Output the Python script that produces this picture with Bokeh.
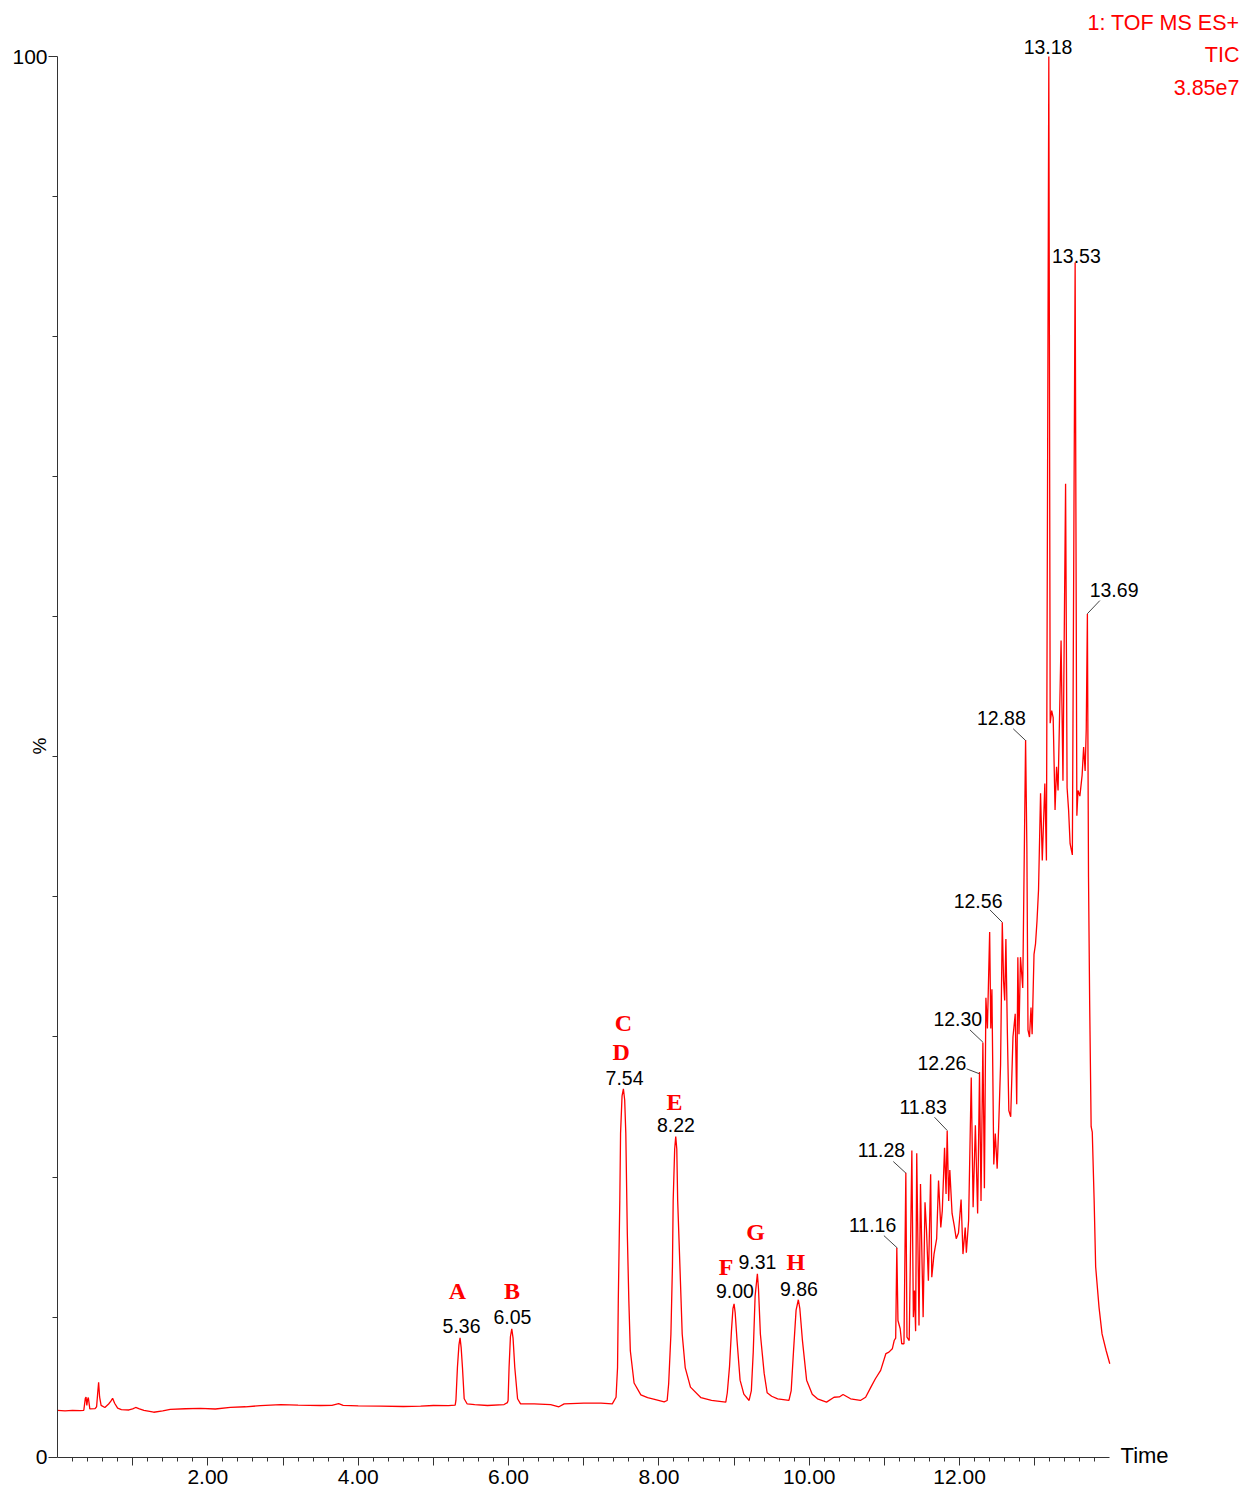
import numpy as np
from bokeh.plotting import figure
from bokeh.models import Range1d, FixedTicker, CustomJSTickFormatter
from bokeh.core.properties import value
from bokeh.embed import file_html
from bokeh.resources import INLINE

# ---------------- data ----------------
time_min = [
    0.00, 0.10, 0.20, 0.30, 0.35, 0.37, 0.38, 0.39, 0.40, 0.41, 0.43, 0.50, 0.52, 0.535, 0.547,
    0.56, 0.58, 0.63, 0.68, 0.71, 0.733, 0.76, 0.80, 0.85, 0.95, 1.00, 1.04, 1.09, 1.15, 1.28,
    1.40, 1.50, 1.70, 1.90, 2.10, 2.30, 2.50, 2.70, 2.97, 3.20, 3.50, 3.65, 3.74, 3.80, 4.00,
    4.30, 4.60, 4.83, 5.00, 5.20, 5.29,
    5.30, 5.32, 5.34, 5.355, 5.37, 5.387, 5.41, 5.45, 5.55, 5.72, 5.94, 5.985,
    5.994, 6.007, 6.025, 6.043, 6.06, 6.083, 6.12, 6.16, 6.34, 6.56, 6.67, 6.74, 7.00, 7.23, 7.38,
    7.43, 7.45, 7.46, 7.48, 7.49, 7.51, 7.528, 7.545, 7.56, 7.58, 7.60, 7.62, 7.67, 7.76, 7.85,
    7.93, 8.07, 8.11,
    8.13, 8.16, 8.18, 8.19, 8.21, 8.224, 8.238, 8.25, 8.28, 8.31, 8.35, 8.42, 8.56, 8.70, 8.78, 8.89,
    8.91, 8.94, 8.965, 8.985, 9.00, 9.015, 9.04, 9.08, 9.13, 9.20,
    9.23, 9.255, 9.28, 9.31, 9.325, 9.35, 9.40, 9.44, 9.50, 9.58, 9.73,
    9.76, 9.79, 9.825, 9.855, 9.875, 9.91, 9.965, 10.04, 10.11, 10.23, 10.33, 10.40, 10.45, 10.55,
    10.68, 10.75, 10.82, 10.88, 10.95, 11.02, 11.06, 11.105, 11.13, 11.15,
    11.165, 11.18, 11.21, 11.23, 11.26, 11.285, 11.30, 11.33, 11.365, 11.385, 11.40, 11.415, 11.43,
    11.46, 11.48, 11.515, 11.54, 11.56, 11.585, 11.615, 11.63, 11.66, 11.695, 11.72, 11.75, 11.77,
    11.80, 11.82, 11.835, 11.855, 11.87, 11.90, 11.93, 11.955, 11.985, 12.02, 12.045, 12.075, 12.09,
    12.12, 12.155, 12.18, 12.21, 12.24, 12.265, 12.285, 12.31, 12.33, 12.35, 12.37, 12.40, 12.415,
    12.43, 12.455, 12.475, 12.50, 12.52, 12.545, 12.568, 12.585, 12.60, 12.616, 12.635, 12.655,
    12.68, 12.71, 12.74, 12.76, 12.775, 12.79, 12.81, 12.84, 12.878, 12.895, 12.91, 12.93, 12.95,
    12.965, 12.99, 13.01, 13.03, 13.05, 13.077, 13.10, 13.134, 13.155, 13.187, 13.205, 13.225,
    13.245, 13.27, 13.29, 13.31, 13.35, 13.375, 13.41, 13.43, 13.45, 13.47, 13.50, 13.537, 13.56,
    13.575, 13.60, 13.63, 13.65, 13.67, 13.685, 13.70, 13.715, 13.73, 13.75, 13.765, 13.79, 13.81,
    13.855, 13.895, 13.95, 13.998,
]
intensity_pct = [
    3.35, 3.30, 3.35, 3.32, 3.35, 4.20, 4.30, 3.70, 4.10, 4.26, 3.45, 3.47, 3.60, 4.60, 5.35,
    4.30, 3.70, 3.55, 3.80, 4.00, 4.20, 3.85, 3.50, 3.40, 3.37, 3.45, 3.55, 3.45, 3.35, 3.21,
    3.30, 3.42, 3.46, 3.48, 3.44, 3.55, 3.60, 3.68, 3.76, 3.72, 3.69, 3.70, 3.82, 3.70, 3.67,
    3.65, 3.62, 3.65, 3.69, 3.68, 3.72,
    4.05, 6.40, 8.00, 8.52, 7.80, 6.40, 4.17, 3.80, 3.75, 3.69, 3.76, 3.90,
    4.05, 6.40, 8.60, 9.17, 8.50, 6.40, 4.17, 3.81, 3.81, 3.76, 3.60, 3.81, 3.86, 3.86, 3.81,
    4.28, 6.40, 11.2, 18.3, 23.1, 25.8, 26.3, 25.5, 23.1, 15.95, 11.2, 7.60, 5.30, 4.45, 4.25,
    4.15, 3.95, 4.05,
    5.24, 8.80, 13.6, 18.3, 22.0, 22.9, 22.0, 18.3, 13.6, 8.80, 6.40, 5.00, 4.25, 4.05, 4.00, 3.93,
    4.60, 6.50, 9.00, 10.6, 10.95, 10.3, 8.30, 5.50, 4.50, 4.05,
    4.76, 7.50, 11.5, 13.1, 12.0, 8.80, 6.00, 4.60, 4.35, 4.17, 4.05,
    4.76, 7.50, 10.5, 11.24, 10.6, 8.30, 5.50, 4.50, 4.17, 3.93, 4.28, 4.30, 4.48, 4.17,
    4.05, 4.28, 5.00, 5.60, 6.20, 7.40, 7.50, 7.74, 8.33, 8.50,
    14.95, 9.76, 9.17, 8.10, 8.10, 20.3, 8.57, 8.33, 21.9, 10.0, 11.9, 9.00, 21.7,
    9.40, 19.5, 10.0, 18.2, 16.2, 12.6, 20.2, 12.85, 14.5, 15.6, 19.75, 16.4, 17.6,
    22.1, 18.8, 23.3, 18.3, 20.5, 17.4, 16.5, 15.6, 16.0, 18.4, 14.5, 16.4, 14.6,
    16.9, 27.1, 17.85, 23.7, 17.4, 27.5, 18.3, 29.6, 19.2, 32.8, 30.6, 37.5, 30.6,
    33.4, 20.9, 23.1, 20.6, 23.6, 28.0, 38.2, 34.0, 32.6, 37.0, 30.5, 24.75,
    24.3, 30.0, 31.65, 25.2, 35.7, 30.2, 35.7, 33.5, 51.2, 43.5, 30.5, 30.0, 32.1,
    30.2, 35.9, 36.65, 38.3, 40.5, 47.4, 42.6, 48.1, 42.6, 100.0, 52.4, 53.3,
    52.8, 46.2, 49.3, 47.6, 58.3, 48.3, 69.5, 47.8, 46.2, 43.8, 43.0, 85.3, 45.8,
    47.6, 47.2, 48.7, 50.7, 49.0, 52.0, 60.2, 41.4, 32.6, 23.6, 23.2, 18.3, 13.6,
    10.7, 8.8, 7.6, 6.67,
]

# retention-time labels (black)
rt_text = ["5.36", "6.05", "7.54", "8.22", "9.00", "9.31", "9.86", "11.16", "11.28", "11.83",
           "12.26", "12.30", "12.56", "12.88", "13.18", "13.53", "13.69"]
rt_x = [5.375, 6.052, 7.543, 8.226, 9.011, 9.310, 9.862, 10.843, 10.960, 11.515,
        11.765, 11.976, 12.246, 12.556, 13.177, 13.553, 14.055]
rt_y = [9.40, 9.99, 27.09, 23.75, 11.87, 13.97, 12.04, 16.61, 21.95, 24.99,
        28.14, 31.30, 39.74, 52.75, 100.71, 85.79, 61.88]

# leader lines from label to peak
lead_x0 = [10.993, 11.118, 11.667, 12.093, 12.137, 12.403, 12.714, 13.866]
lead_y0 = [15.82, 21.11, 24.27, 27.73, 30.51, 39.08, 52.00, 61.16]
lead_x1 = [11.171, 11.286, 11.836, 12.266, 12.310, 12.568, 12.878, 13.698]
lead_y1 = [14.94, 20.28, 23.32, 27.37, 29.63, 38.19, 51.17, 60.21]

# compound letters (red)
letter_text = ["A", "B", "C", "D", "E", "F", "G", "H"]
letter_x = [5.320, 6.047, 7.528, 7.499, 8.207, 8.895, 9.287, 9.823]
letter_y = [11.83, 11.83, 31.03, 28.91, 25.34, 13.56, 16.06, 13.97]

header_text = ["1: TOF MS ES+", "TIC", "3.85e7"]
header_y = [102.39, 100.14, 97.81]

x_major = [1, 2, 3, 4, 5, 6, 7, 8, 9, 10, 11, 12, 13]
y_major = [0, 100]

# ---------------- figure ----------------
p = figure(width=1244, height=1491, output_backend="svg", toolbar_location=None,
           x_range=Range1d(0, 15.79), y_range=Range1d(-2.449, 104.0),
           min_border_left=57, min_border_right=0, min_border_top=0, min_border_bottom=0)
p.grid.visible = False
p.outline_line_color = None
p.background_fill_color = "white"
p.border_fill_color = "white"

axis_color = "#333333"
font = "Liberation Sans"

xa = p.xaxis[0]
xa.fixed_location = 0
xa.bounds = (0, 14.0)
xa.ticker = FixedTicker(ticks=x_major,
                        minor_ticks=[round(v, 2) for v in np.arange(0.2, 13.9, 0.2)])
xa.formatter = CustomJSTickFormatter(code="return (Math.round(tick) % 2 == 0) ? tick.toFixed(2) : '';")
xa.axis_line_color = axis_color
xa.major_tick_line_color = axis_color
xa.minor_tick_line_color = axis_color
xa.major_tick_out = 8
xa.major_tick_in = 0
xa.minor_tick_out = 4
xa.minor_tick_in = 0
xa.major_label_standoff = 5
xa.major_label_text_font = font
xa.major_label_text_font_size = "21px"
xa.major_label_text_color = "black"

ya = p.yaxis[0]
ya.bounds = (0, 100)
ya.ticker = FixedTicker(ticks=y_major, minor_ticks=list(range(10, 100, 10)))
ya.formatter = CustomJSTickFormatter(code="return tick.toFixed(0);")
ya.axis_line_color = axis_color
ya.major_tick_line_color = axis_color
ya.minor_tick_line_color = axis_color
ya.major_tick_out = 9
ya.major_tick_in = 0
ya.minor_tick_out = 5
ya.minor_tick_in = 0
ya.major_label_standoff = 1
ya.major_label_text_font = font
ya.major_label_text_font_size = "21px"
ya.major_label_text_color = "black"
ya.axis_label = "%"
ya.axis_label_text_font = font
ya.axis_label_text_font_style = "normal"
ya.axis_label_text_font_size = "19px"
ya.axis_label_text_color = "black"
ya.axis_label_standoff = -41

# trace
p.line(time_min, intensity_pct, line_color="#FF0000", line_width=1.3)

# leader lines
p.segment(x0=lead_x0, y0=lead_y0, x1=lead_x1, y1=lead_y1, line_color="#444444", line_width=1)

# retention-time labels
p.text(x=rt_x, y=rt_y, text=rt_text, text_font=value(font), text_font_size="19.5px",
       text_color="black", text_align="center", text_baseline="middle")

# compound letters
p.text(x=letter_x, y=letter_y, text=letter_text, text_font=value("Liberation Serif"),
       text_font_style="bold", text_font_size="24px", text_color="#FF0000",
       text_align="center", text_baseline="middle")

# header
p.text(x=[15.723] * 3, y=header_y, text=header_text, text_font=value(font),
       text_font_size="21.5px", text_color="#FF0000", text_align="right", text_baseline="middle")

# axis name at the end of the time axis
p.text(x=[14.141], y=[0.12], text=["Time"], text_font=value(font), text_font_size="22px",
       text_color="black", text_align="left", text_baseline="middle")

open("out.html", "w").write(file_html(p, INLINE))
